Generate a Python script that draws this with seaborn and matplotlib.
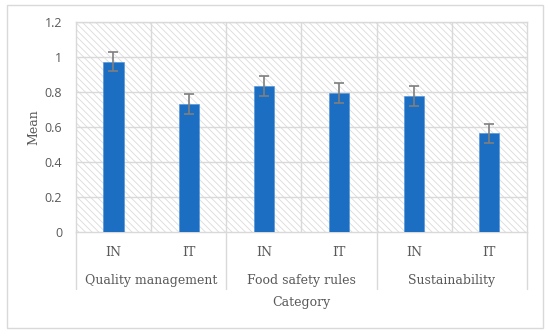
import numpy as np
import pandas as pd
import matplotlib
matplotlib.use("Agg")
import matplotlib.pyplot as plt
import seaborn as sns
from matplotlib.patches import Rectangle

# данные
categories = ["Quality management", "Food safety rules", "Sustainability"]
groups = ["IN", "IT"]
means = [0.973, 0.731, 0.834, 0.796, 0.779, 0.564]
errors = [0.055, 0.055, 0.057, 0.057, 0.056, 0.055]

keys = [f"{c}|{g}" for c in categories for g in groups]
df = pd.DataFrame({"key": keys, "mean": means})

sns.set_theme(style="white")
plt.rcParams["hatch.linewidth"] = 0.6
plt.rcParams["hatch.color"] = "#dadada"

serif = ["DejaVu Serif"]
grey_txt = "#595959"
line_c = "#d9d9d9"

fig = plt.figure(figsize=(5.5, 3.33), dpi=100)
ax = fig.add_axes([0.138, 0.303, 0.820, 0.631])

# фон со штриховкой
ax.add_patch(Rectangle((0, 0), 1, 1, transform=ax.transAxes, facecolor="white",
                       edgecolor="#dadada", hatch="\\\\\\\\\\", linewidth=0, zorder=0))

sns.barplot(data=df, x="key", y="mean", order=keys, color="#1B6EC2",
            errorbar=None, width=0.27, ax=ax, zorder=3, saturation=1,
            edgecolor="#4a90d9", linewidth=0.4)
ax.errorbar(np.arange(len(means)), means, yerr=errors, fmt="none",
            ecolor="#7f7f7f", elinewidth=1.2, capsize=3.5, capthick=1.2, zorder=4)

ax.set_xlim(-0.5, 5.5)
ax.set_ylim(0, 1.2)
ax.set_yticks(np.arange(0, 1.21, 0.2))
ax.set_yticklabels(["0", "0.2", "0.4", "0.6", "0.8", "1", "1.2"],
                   fontsize=9, color=grey_txt, family=["Open Sans", "DejaVu Sans"])
ax.tick_params(axis="y", length=0, pad=10)

# сетка
for yv in np.arange(0.2, 1.21, 0.2):
    ax.axhline(yv, color=line_c, lw=1, zorder=1)
for xv in np.arange(0.5, 5.5, 1):
    ax.axvline(xv, color=line_c, lw=1, zorder=1)
for s in ax.spines.values():
    s.set_color(line_c)
    s.set_linewidth(1)

ax.set_xticks(range(len(keys)))
ax.set_xticklabels(groups * len(categories), fontsize=9, color=grey_txt, family=serif)
ax.tick_params(axis="x", length=0, pad=10)
ax.set_xlabel("")
ax.set_ylabel("Mean", fontsize=9, color=grey_txt, family=serif, labelpad=3)

# подписи групп и разделители
trans = ax.get_xaxis_transform()
for i, c in enumerate(categories):
    ax.text(2 * i + 0.5, -0.228, c, transform=trans, ha="center", va="center",
            fontsize=9, color=grey_txt, family=serif)
for xv in [-0.5, 1.5, 3.5, 5.5]:
    ax.plot([xv, xv], [0, -0.27], transform=trans, color=line_c, lw=1, clip_on=False)
ax.text(2.5, -0.335, "Category", transform=trans, ha="center", va="center",
        fontsize=9, color=grey_txt, family=serif)

# рамка вокруг рисунка
fig.patches.append(Rectangle((7 / 550, 5 / 333), 536 / 550, 323 / 333,
                             transform=fig.transFigure, fill=False,
                             edgecolor=line_c, lw=1))

fig.savefig("out.png", dpi=100)
